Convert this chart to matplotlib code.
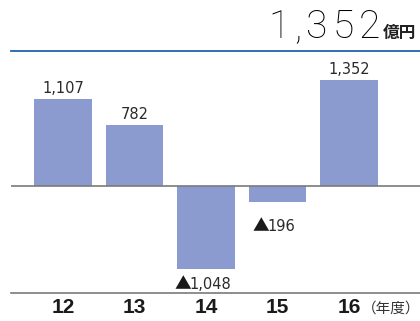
import matplotlib.pyplot as plt

plt.rcParams['font.family'] = ['Liberation Sans', 'Noto Sans CJK JP', 'DejaVu Sans']

years = ["12", "13", "14", "15", "16"]
values = [1107, 782, -1048, -196, 1352]
labels = ["1,107", "782", "1,048", "196", "1,352"]
headline = "1,352"
unit = "億円"
year_unit = "（年度）"

W, H = 420, 321
fig = plt.figure(figsize=(W / 100, H / 100), dpi=100)
renderer = fig.canvas.get_renderer()


def tracked_text(x0, y0, s, spacing, **kw):
    # draw text char by char with extra letter spacing (pixels), left aligned
    x = x0
    for ch in s:
        t = fig.text(x / W, 1 - y0 / H, ch, ha="left", va="baseline", **kw)
        x += t.get_window_extent(renderer).width + spacing
    return x


# axes placed in pixel terms: x 11..420, y 50..292.5 (from top)
ax = fig.add_axes([11 / W, 1 - 292.5 / H, 409 / W, 242.5 / H])
ax.set_xlim(-0.727, 4.993)
ax.set_ylim(-1345, 1732)
ax.axis("off")

bar_color = "#8c9bcf"
x = list(range(len(years)))
ax.bar(x, values, width=0.81, color=bar_color, zorder=1)
ax.axhline(0, color="#7a7a7a", lw=1.2, zorder=2)

num_kw = dict(fontsize=10.5, color="#2a2a2a", family=["DejaVu Sans"])
tri_kw = dict(fontsize=12, color="#1a1a1a", family=["Noto Sans CJK JP"])
neg_offset = {2: -14.5, 3: -21.0}   # baseline offset below bar end, points
for xi, v, lab in zip(x, values, labels):
    if v >= 0:
        ax.annotate(lab, (xi, v), xytext=(0, 4.5), textcoords="offset points",
                    ha="center", va="baseline", **num_kw)
    else:
        # triangle marker glyph + number, centred together under the bar
        tri = ax.annotate("▲", (xi, v), xytext=(0, neg_offset[xi]),
                          textcoords="offset points", ha="left", va="baseline", **tri_kw)
        num = ax.annotate(lab, (xi, v), xytext=(0, neg_offset[xi]),
                          textcoords="offset points", ha="left", va="baseline", **num_kw)
        wt = tri.get_window_extent(renderer).width * 72 / 100
        wn = num.get_window_extent(renderer).width * 72 / 100
        start = -(wt + wn) / 2 - 2
        tri.set_position((start, neg_offset[xi]))
        num.set_position((start + wt - 1, neg_offset[xi]))

# top blue rule and bottom gray rule
fig.add_artist(plt.Line2D([11 / W, 1], [1 - 50.5 / H] * 2, color="#1f63ad", lw=1.3))
fig.add_artist(plt.Line2D([11 / W, 1], [1 - 292.5 / H] * 2, color="#7a7a7a", lw=1.2))

# headline
xe = tracked_text(268, 38, headline, 5.0, fontsize=28, color="#000000",
                  family=["Roboto", "Liberation Sans"], fontweight="light")
fig.text((xe - 3) / W, 1 - 38 / H, unit, ha="left", va="baseline", fontsize=12,
         fontweight="bold", color="#222222", family="Noto Sans CJK JP")

# year labels
for xi, y in zip(x, years):
    ax.text(xi, -1420, y, transform=ax.transData, ha="center", va="top",
            fontsize=15, fontweight="bold", color="#1a1a1a")
fig.text(1.0, 1 - 313 / H, year_unit, ha="right", va="baseline", fontsize=10.5,
         color="#333333", family="Noto Sans CJK JP")

fig.savefig("out.png", dpi=100)
